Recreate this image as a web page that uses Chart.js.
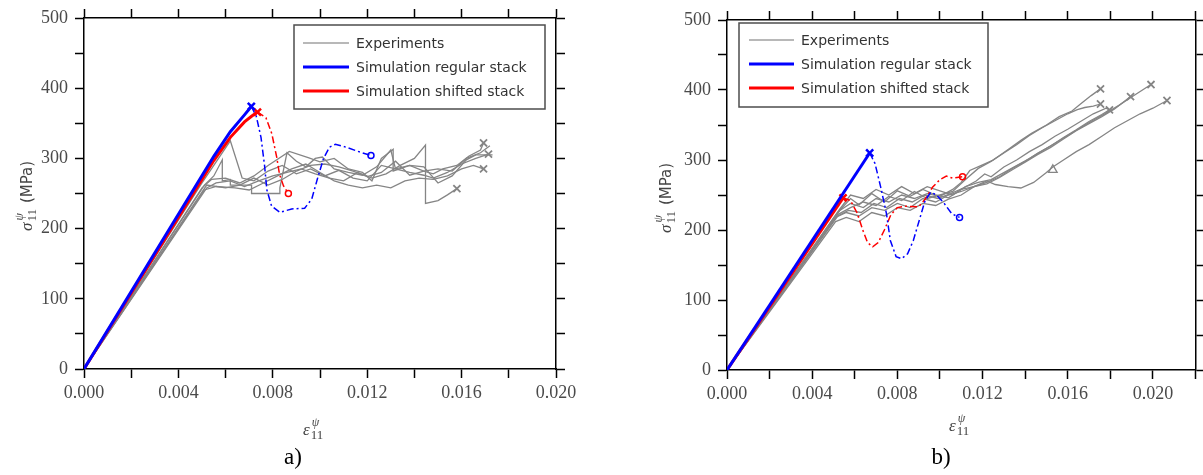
<!DOCTYPE html>
<html><head><meta charset="utf-8">
<script src="https://cdn.jsdelivr.net/npm/chart.js@4.4.1/dist/chart.umd.min.js"></script>
<style>
html,body{margin:0;padding:0;background:#fff;width:1203px;height:475px;overflow:hidden;}
#ca{position:absolute;left:0;top:0;}
#cb{position:absolute;left:600px;top:0;}
</style></head><body>
<canvas id="ca" width="600" height="475"></canvas>
<canvas id="cb" width="603" height="475"></canvas>
<script>
// ---------- tick labels ----------
const xTickValues_a = [0,0.002,0.004,0.006,0.008,0.010,0.012,0.014,0.016,0.018,0.020];
const xTickLabels_a = ['0.000','','0.004','','0.008','','0.012','','0.016','','0.020'];
const xTickValues_b = [0,0.002,0.004,0.006,0.008,0.010,0.012,0.014,0.016,0.018,0.020,0.022];
const xTickLabels_b = ['0.000','','0.004','','0.008','','0.012','','0.016','','0.020',''];
const yTickValues = [0,50,100,150,200,250,300,350,400,450,500];
const yTickLabels = ['0','','100','','200','','300','','400','','500'];
const legendLabels = ['Experiments','Simulation regular stack','Simulation shifted stack'];
const panelLabels = ['a)','b)'];

// ---------- panel a data (strain, MPa) ----------
const a_regular = [[0,0],[0.0055,303],[0.0062,338],[0.0068,362],[0.00709,374]];
const a_regularPost = [[0.00709,374],[0.0073,360],[0.0075,330],[0.00765,290],[0.00775,255],[0.00795,232],[0.0083,223],[0.0088,228],[0.00935,229],[0.00965,242],[0.0099,272],[0.01015,300],[0.0104,316],[0.01065,320],[0.0111,316],[0.0117,309],[0.01216,304]];
const a_shifted = [[0,0],[0.0055,297],[0.0062,330],[0.0068,352],[0.0071,360],[0.00735,366]];
const a_shiftedPost = [[0.00735,366],[0.00771,358],[0.00796,335],[0.00817,301],[0.00828,278],[0.00845,261],[0.00866,250]];
const a_exp1 = [[0,0],[0.0050,265],[0.0058,305],[0.0062,325],[0.0067,272],[0.0072,268],[0.0078,282],[0.0084,290],[0.0090,278],[0.0096,285],[0.0102,275],[0.0108,283],[0.0114,272],[0.0120,268],[0.0126,290],[0.0132,285],[0.0138,290],[0.0144,282],[0.0148,278],[0.0152,285],[0.0158,290],[0.0163,303],[0.0168,312],[0.01693,322]];
const a_exp2 = [[0,0],[0.0051,262],[0.0055,275],[0.00586,298],[0.00586,268],[0.0062,270],[0.0062,262],[0.0071,262],[0.0071,250],[0.0083,250],[0.0083,258],[0.0086,308],[0.0090,296],[0.0094,288],[0.0098,300],[0.0101,302],[0.0106,285],[0.0112,280],[0.0118,276],[0.0124,288],[0.0130,312],[0.0132,285],[0.0138,280],[0.0144,276],[0.0148,272],[0.0154,280],[0.0160,292],[0.0166,300],[0.01714,306]];
const a_exp3 = [[0,0],[0.0052,258],[0.0056,265],[0.0062,268],[0.0068,260],[0.0074,268],[0.0080,275],[0.0086,280],[0.0092,285],[0.0098,278],[0.0104,272],[0.0110,268],[0.0116,280],[0.0122,272],[0.0128,278],[0.0134,290],[0.0140,300],[0.01447,319],[0.01447,236],[0.0150,240],[0.0154,248],[0.0158,257]];
const a_exp4 = [[0,0],[0.0051,255],[0.0056,260],[0.0064,258],[0.0070,255],[0.0076,265],[0.0082,275],[0.0088,285],[0.0094,292],[0.0100,280],[0.0106,268],[0.0112,262],[0.0118,258],[0.0124,262],[0.0130,258],[0.0136,268],[0.0142,272],[0.0148,270],[0.0154,275],[0.0160,285],[0.0165,290],[0.01693,285]];
const a_exp5 = [[0,0],[0.0050,258],[0.0054,270],[0.0060,272],[0.0066,265],[0.0072,275],[0.0078,290],[0.0087,310],[0.0095,301],[0.0100,295],[0.0106,300],[0.0112,285],[0.0118,280],[0.0122,268],[0.0126,300],[0.0131,313],[0.0131,282],[0.0138,290],[0.0144,288],[0.0150,265],[0.0156,275],[0.0162,298],[0.0166,305],[0.01731,305]];
const a_exp6 = [[0,0],[0.0052,262],[0.0060,258],[0.0066,262],[0.0072,272],[0.0078,262],[0.0084,270],[0.0090,282],[0.0096,290],[0.0102,292],[0.0108,288],[0.0114,282],[0.0120,274],[0.0126,280],[0.0132,296],[0.0138,276],[0.0144,282],[0.0150,285],[0.0156,282],[0.0162,300],[0.0168,308],[0.0172,318]];

// ---------- panel b data (strain, MPa) ----------
const b_regular = [[0,0],[0.0067,310]];
const b_regularPost = [[0.0067,310],[0.00695,295],[0.00722,261],[0.00749,223],[0.00767,185],[0.00794,162],[0.0082,159],[0.00848,166],[0.00875,185],[0.00903,214],[0.0093,242],[0.00957,254],[0.00984,250],[0.0102,238],[0.01056,223],[0.01092,218]];
const b_shifted = [[0,0],[0.00545,246]];
const b_shiftedPost = [[0.00545,246],[0.0058,242],[0.0061,225],[0.0064,198],[0.0066,182],[0.00684,176],[0.0071,182],[0.00739,200],[0.0077,222],[0.0080,232],[0.0084,234],[0.0090,233],[0.0093,244],[0.00965,261],[0.0100,272],[0.0103,277],[0.0106,274],[0.01106,276]];
const b_exp1 = [[0,0],[0.0053,228],[0.0058,238],[0.0064,232],[0.0070,245],[0.0076,240],[0.0082,250],[0.0088,245],[0.0094,252],[0.0100,248],[0.0106,258],[0.0110,268],[0.0114,285],[0.0120,293],[0.0125,300],[0.0132,315],[0.0138,328],[0.0143,338],[0.0150,350],[0.0156,362],[0.0162,370],[0.0166,380],[0.0171,392],[0.01754,401.6]];
const b_exp2 = [[0,0],[0.0052,222],[0.0058,232],[0.0064,240],[0.0070,235],[0.0076,248],[0.0082,242],[0.0088,255],[0.0094,245],[0.0100,250],[0.0106,255],[0.0112,272],[0.0118,288],[0.0124,298],[0.0130,310],[0.0136,322],[0.0142,335],[0.0148,346],[0.0154,356],[0.0160,366],[0.01645,372],[0.0168,375],[0.0172,377],[0.01754,380]];
const b_exp3 = [[0,0],[0.0051,218],[0.0056,225],[0.0062,220],[0.0068,232],[0.0074,228],[0.0080,238],[0.0086,232],[0.0092,245],[0.0098,240],[0.0104,250],[0.0110,255],[0.0116,262],[0.0122,268],[0.0128,276],[0.0134,288],[0.0140,298],[0.0146,310],[0.0152,320],[0.0158,332],[0.0164,343],[0.0170,355],[0.0176,365],[0.01796,371.7]];
const b_exp4 = [[0,0],[0.0052,225],[0.0058,245],[0.0062,236],[0.0068,252],[0.0074,240],[0.0080,256],[0.0086,248],[0.0092,258],[0.0098,250],[0.0104,246],[0.0110,258],[0.0116,262],[0.0122,266],[0.0128,275],[0.0134,286],[0.0140,297],[0.0146,308],[0.0152,318],[0.0158,330],[0.0164,342],[0.0170,352],[0.0176,362],[0.0182,373],[0.01895,390.6]];
const b_exp5 = [[0,0],[0.0053,230],[0.0058,250],[0.0064,245],[0.0070,258],[0.0076,250],[0.0082,262],[0.0088,252],[0.0094,262],[0.0100,256],[0.0106,250],[0.0112,262],[0.0118,268],[0.0124,272],[0.0130,282],[0.0136,292],[0.0142,302],[0.0148,313],[0.0154,324],[0.0160,335],[0.0166,346],[0.0172,357],[0.0178,367],[0.0184,378],[0.0190,390],[0.01991,407.8]];
const b_exp6 = [[0,0],[0.0051,212],[0.0056,218],[0.0062,212],[0.0068,225],[0.0074,220],[0.0080,232],[0.0086,228],[0.0092,238],[0.0098,235],[0.0104,244],[0.0110,250],[0.0116,262],[0.0122,270],[0.0126,265],[0.0132,262],[0.0138,260],[0.0144,268],[0.0150,282],[0.0153,290],[0.0158,300],[0.0164,312],[0.0170,322],[0.0176,334],[0.0182,346],[0.0188,356],[0.0194,366],[0.0200,374],[0.02066,385]];
const b_exp7 = [[0,0],[0.0052,220],[0.0057,228],[0.0063,225],[0.0069,238],[0.0075,232],[0.0081,245],[0.0087,240],[0.0093,250],[0.0099,245],[0.0105,252],[0.0111,260],[0.0117,270],[0.0121,280],[0.0124,276],[0.0130,290],[0.0136,300],[0.0142,312],[0.0148,322],[0.0154,334],[0.0160,344],[0.0166,355],[0.0172,366],[0.0178,374],[0.0180,371]];
const b_triangle = [[0.0153,286]];

// ---------- styling helpers ----------
const GRAY = '#858585', BLUE = '#0000ff', RED = '#ff0000';
const toXY = arr => arr.map(p => ({x: p[0], y: p[1]}));
const lastOnly = r => (c => c.dataIndex === c.dataset.data.length - 1 ? r : 0);

function expSet(arr, mark) {
  return {data: toXY(arr), showLine: true, borderColor: GRAY, borderWidth: 1.3, fill: false,
    pointStyle: 'crossRot', pointRadius: mark ? lastOnly(5) : 0, pointBorderColor: GRAY,
    pointBorderWidth: 1.8, pointHoverRadius: 0, order: 2};
}
function simSet(arr, color) {
  return {data: toXY(arr), showLine: true, borderColor: color, borderWidth: 3, fill: false,
    pointStyle: 'crossRot', pointRadius: lastOnly(5), pointBorderColor: color, pointBorderWidth: 2.5,
    pointHoverRadius: 0, order: 0};
}
function postSet(arr, color) {
  return {data: toXY(arr), showLine: true, borderColor: color, borderWidth: 1.5, borderDash: [7,3,2,3],
    fill: false, pointStyle: 'circle', pointRadius: lastOnly(3), pointBorderColor: color,
    pointBackgroundColor: 'rgba(0,0,0,0)', pointBorderWidth: 1.5, pointHoverRadius: 0, order: 1};
}

function makeScales(xMax, xVals, xLabs, sz) {
  const grid = {drawOnChartArea: false, drawTicks: true, tickLength: 9, tickWidth: 1.5, tickColor: '#000'};
  const border = {color: '#000', width: 1.5};
  const tickFont = {family: '"Liberation Serif", serif', size: 18};
  return {
    x: {type: 'linear', position: 'bottom', min: 0, max: xMax, grid, border,
        afterBuildTicks: s => { s.ticks = xVals.map(v => ({value: v})); },
        ticks: {callback: (v, i) => xLabs[i], autoSkip: false, maxRotation: 0, minRotation: 0,
                padding: 4, color: '#4a4a4a', font: tickFont},
        afterFit: s => { s.height = sz.bottom; }},
    xTop: {type: 'linear', axis: 'x', position: 'top', min: 0, max: xMax, grid, border,
        afterBuildTicks: s => { s.ticks = xVals.map(v => ({value: v})); },
        ticks: {display: false}, afterFit: s => { s.height = sz.top; }},
    y: {type: 'linear', position: 'left', min: 0, max: 500, grid, border,
        afterBuildTicks: s => { s.ticks = yTickValues.map(v => ({value: v})); },
        ticks: {callback: (v, i) => yTickLabels[i], autoSkip: false, padding: 7, color: '#4a4a4a', font: tickFont},
        afterFit: s => { s.width = sz.left; }},
    yRight: {type: 'linear', axis: 'y', position: 'right', min: 0, max: 500, grid, border,
        afterBuildTicks: s => { s.ticks = yTickValues.map(v => ({value: v})); },
        ticks: {display: false}, afterFit: s => { s.width = sz.right; }}
  };
}

function makeDeco(p) {
  return {
    id: 'deco',
    afterDraw(chart) {
      const ctx = chart.ctx;
      ctx.save();
      // legend
      const [x0, y0, x1, y1] = p.box;
      ctx.fillStyle = '#fff';
      ctx.fillRect(x0, y0, x1 - x0, y1 - y0);
      ctx.strokeStyle = '#4d4d4d'; ctx.lineWidth = 1.5;
      ctx.strokeRect(x0, y0, x1 - x0, y1 - y0);
      const cols = ['#a0a0a0', BLUE, RED], wids = [1.5, 3, 3];
      legendLabels.forEach((t, i) => {
        const y = p.rows[i];
        ctx.strokeStyle = cols[i]; ctx.lineWidth = wids[i];
        ctx.beginPath(); ctx.moveTo(p.line[0], y); ctx.lineTo(p.line[1], y); ctx.stroke();
        ctx.fillStyle = '#333'; ctx.font = '14px "DejaVu Sans", sans-serif';
        ctx.textBaseline = 'middle'; ctx.textAlign = 'left';
        ctx.fillText(t, p.textX, y + 1);
      });
      // x axis label: epsilon^psi_11
      ctx.fillStyle = '#444'; ctx.textBaseline = 'alphabetic'; ctx.textAlign = 'left';
      ctx.font = 'italic 17px "Liberation Serif", serif';
      ctx.fillText('\u03B5', p.xl[0], p.xl[1]);
      const we = ctx.measureText('\u03B5').width;
      ctx.font = 'italic 12px "Liberation Serif", serif';
      ctx.fillText('\u03C8', p.xl[0] + we + 2, p.xl[1] - 9);
      ctx.font = '13px "Liberation Serif", serif';
      ctx.fillText('11', p.xl[0] + we + 1, p.xl[1] + 4);
      // y axis label: sigma^psi_11 (MPa)
      ctx.save();
      ctx.translate(p.yl[0], p.yl[1]);
      ctx.rotate(-Math.PI / 2);
      ctx.font = 'italic 17px "Liberation Serif", serif';
      ctx.fillText('\u03C3', 0, 0);
      const ws = ctx.measureText('\u03C3').width;
      ctx.font = 'italic 12px "Liberation Serif", serif';
      ctx.fillText('\u03C8', ws + 2, -9);
      ctx.font = '13px "Liberation Serif", serif';
      ctx.fillText('11', ws + 1, 4);
      const w11 = ctx.measureText('11').width;
      ctx.font = '15px "DejaVu Sans", sans-serif';
      ctx.fillText('(MPa)', ws + 1 + w11 + 6, 0);
      ctx.restore();
      // panel label
      ctx.fillStyle = '#000'; ctx.textAlign = 'center';
      ctx.font = '23px "Liberation Serif", serif';
      ctx.fillText(p.panel, p.pl[0], p.pl[1]);
      ctx.restore();
    }
  };
}

function baseOptions(scales, pad) {
  return {
    responsive: false, animation: false, devicePixelRatio: 1,
    layout: {padding: 0},
    plugins: {legend: {display: false}, tooltip: {enabled: false}, title: {display: false}},
    events: [],
    scales
  };
}

// ---------- panel a ----------
new Chart(document.getElementById('ca'), {
  type: 'scatter',
  data: {datasets: [
    simSet(a_regular, BLUE), simSet(a_shifted, RED),
    postSet(a_regularPost, BLUE), postSet(a_shiftedPost, RED),
    expSet(a_exp1, true), expSet(a_exp2, true), expSet(a_exp3, true),
    expSet(a_exp4, true), expSet(a_exp5, false), expSet(a_exp6, false)
  ]},
  options: baseOptions(makeScales(0.020, xTickValues_a, xTickLabels_a, {left: 84, right: 44, top: 18, bottom: 106})),
  plugins: [makeDeco({box: [294, 25, 545, 109], line: [303, 349], textX: 356, rows: [43, 67, 91],
                      xl: [303, 435], yl: [32, 231], panel: panelLabels[0], pl: [293, 464]})]
});

// ---------- panel b ----------
new Chart(document.getElementById('cb'), {
  type: 'scatter',
  data: {datasets: [
    simSet(b_regular, BLUE), simSet(b_shifted, RED),
    postSet(b_regularPost, BLUE), postSet(b_shiftedPost, RED),
    expSet(b_exp1, true), expSet(b_exp2, true), expSet(b_exp3, true),
    expSet(b_exp4, true), expSet(b_exp5, true), expSet(b_exp6, true), expSet(b_exp7, false),
    {data: toXY(b_triangle), showLine: false, pointStyle: 'triangle', pointRadius: 5,
     pointBorderColor: GRAY, pointBackgroundColor: 'rgba(0,0,0,0)', pointBorderWidth: 1.3, order: 2}
  ]},
  options: baseOptions(makeScales(0.022, xTickValues_b, xTickLabels_b, {left: 127, right: 6, top: 20, bottom: 105})),
  plugins: [makeDeco({box: [139, 23, 388, 107], line: [149, 194], textX: 201, rows: [40, 64, 88],
                      xl: [349, 431], yl: [71, 233], panel: panelLabels[1], pl: [341, 464]})]
});
</script>
</body></html>
